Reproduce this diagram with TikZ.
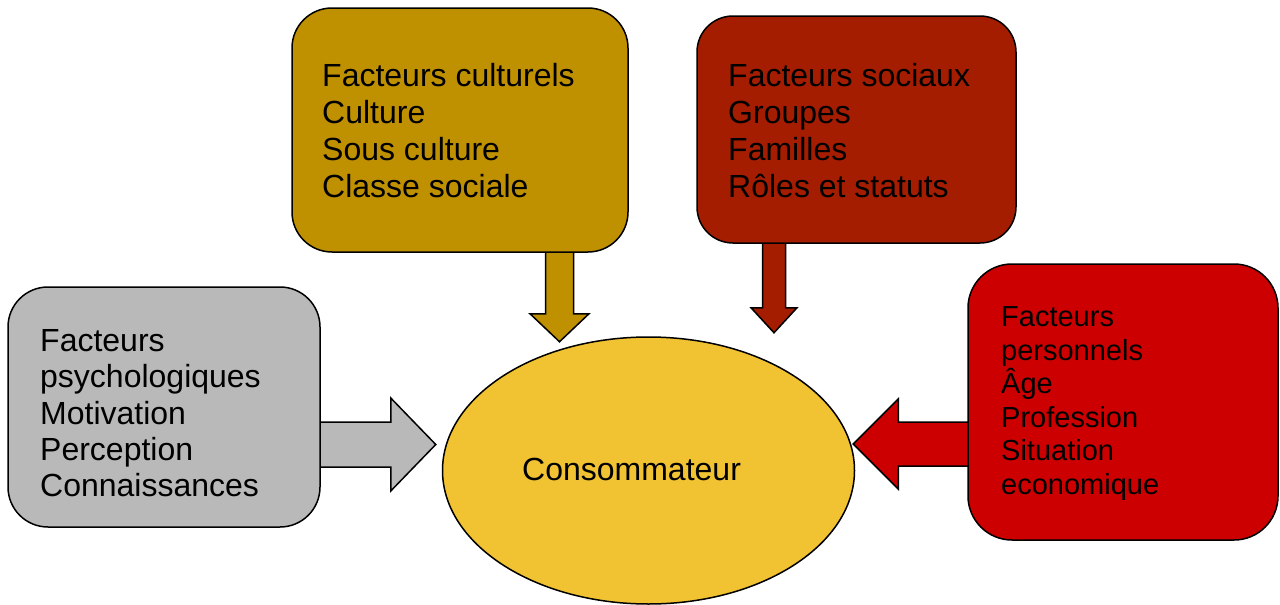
\documentclass[tikz,border=0pt]{standalone}
\usepackage{fontspec}
\setmainfont{Liberation Sans}
\usetikzlibrary{shapes.geometric,backgrounds,calc}

\definecolor{culturel}{HTML}{BF9000}
\definecolor{social}{HTML}{A51D00}
\definecolor{psycho}{HTML}{B9B9B9}
\definecolor{personnel}{HTML}{CC0000}
\definecolor{conso}{HTML}{F1C232}

\tikzset{
  factorbox/.style={draw=black, line width=1.5pt, rectangle, inner sep=0pt},
  % multi-line texts are placed by the baseline of their last line
  factortext/.style={anchor=base west, align=left, inner sep=0pt, text=black},
  blockarrow/.style={draw=black, line width=1.5pt, line join=miter},
}

\begin{document}
\begin{tikzpicture}[x=1pt, y=-1pt]
  \useasboundingbox (0,0) rectangle (1280,605);

  % factor boxes
  \node[factorbox, fill=culturel, rounded corners=40pt,
        minimum width=336pt, minimum height=244pt] (cult) at (460,130) {};
  \node[factorbox, fill=social, rounded corners=36pt,
        minimum width=319pt, minimum height=227pt] (soc) at (856.5,129.5) {};
  \node[factorbox, fill=psycho, rounded corners=40pt,
        minimum width=312pt, minimum height=240pt] (psy) at (164,407) {};
  \node[factorbox, fill=personnel, rounded corners=44pt,
        minimum width=310pt, minimum height=276pt] (pers) at (1123,402) {};

  % the consumer in the middle
  \node[draw=black, line width=1.5pt, ellipse, fill=conso, inner sep=0pt,
        minimum width=412pt, minimum height=267pt] (cons) at (648.5,470.5) {};
  \node[factortext, font=\fontsize{32}{37}\selectfont] (consname) at (522,480.5) {Consommateur};

  % box contents
  \node[factortext, font=\fontsize{32}{37}\selectfont] (culttext) at (322,197.5)
    {Facteurs culturels\\Culture\\Sous culture\\Classe sociale};
  \node[factortext, font=\fontsize{32}{37}\selectfont] (soctext) at (728,197.5)
    {Facteurs sociaux\\Groupes\\Familles\\Rôles et statuts};
  \node[factortext, font=\fontsize{32}{36.25}\selectfont] (psytext) at (40,496.5)
    {Facteurs\\psychologiques\\Motivation\\Perception\\Connaissances};
  \node[factortext, font=\fontsize{29}{33.6}\selectfont] (perstext) at (1001,494.4)
    {Facteurs\\personnels\\Âge\\Profession\\Situation\\economique};

  % block arrows, tucked behind the boxes and the ellipse
  \begin{pgfonlayer}{background}
    % cultural factors -> consumer
    \coordinate (cultA) at (cult.south -| 559.5,0);
    \filldraw[blockarrow, fill=culturel]
      ($(cultA)+(-14,-5)$) -- ($(cultA)+(-14,61)$) -- ($(cultA)+(-29.5,61)$)
      -- ($(cultA)+(0,89)$) -- ($(cultA)+(29.5,61)$) -- ($(cultA)+(14,61)$)
      -- ($(cultA)+(14,-5)$) -- cycle;
    % social factors -> consumer
    \coordinate (socA) at (soc.south -| 774,0);
    \filldraw[blockarrow, fill=social]
      ($(socA)+(-11.5,-5)$) -- ($(socA)+(-11.5,64)$) -- ($(socA)+(-23,64)$)
      -- ($(socA)+(0,89)$) -- ($(socA)+(23,64)$) -- ($(socA)+(11.5,64)$)
      -- ($(socA)+(11.5,-5)$) -- cycle;
    % psychological factors -> consumer
    \coordinate (psyA) at (psy.east |- 0,444.5);
    \filldraw[blockarrow, fill=psycho]
      ($(psyA)+(-5,-22.5)$) -- ($(psyA)+(70,-22.5)$) -- ($(psyA)+(70,-46.5)$)
      -- ($(psyA)+(115,0)$) -- ($(psyA)+(70,46.5)$) -- ($(psyA)+(70,22.5)$)
      -- ($(psyA)+(-5,22.5)$) -- cycle;
    % personal factors -> consumer
    \coordinate (persA) at (pers.west |- 0,444);
    \filldraw[blockarrow, fill=personnel]
      ($(persA)+(5,-22)$) -- ($(persA)+(-69,-22)$) -- ($(persA)+(-69,-45)$)
      -- ($(persA)+(-114,0)$) -- ($(persA)+(-69,45)$) -- ($(persA)+(-69,22)$)
      -- ($(persA)+(5,22)$) -- cycle;
  \end{pgfonlayer}
\end{tikzpicture}
\end{document}
